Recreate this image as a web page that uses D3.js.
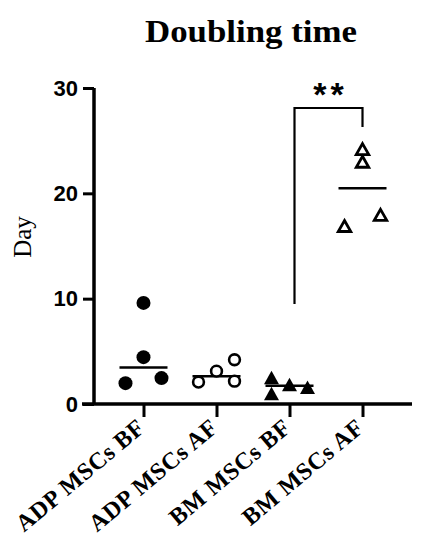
<!DOCTYPE html>
<html>
<head>
<meta charset="utf-8">
<script src="https://cdn.jsdelivr.net/npm/d3@7"></script>
<style>
  html, body { margin: 0; padding: 0; background: #fff; }
  svg { display: block; }
</style>
</head>
<body>
<svg id="chart" width="425" height="550"></svg>
<script>
// ---- data ----
const categories = ["ADP MSCs BF", "ADP MSCs AF", "BM MSCs BF", "BM MSCs AF"];
const adpBF = [9.6, 4.45, 1.98, 2.46];
const adpAF = [2.08, 3.12, 4.2, 2.17];
const bmBF  = [2.52, 1.0, 1.86, 1.6];
const bmAF  = [24.2, 23.0, 16.9, 17.95];
// scatter column slot of each point (-1 left, 0 centre, +1 right)
const adpBFSlots = [0, 0, -1, 1];
const adpAFSlots = [-1, 0, 1, 1];
const bmBFSlots  = [-1, -1, 0, 1];
const bmAFSlots  = [0, 0, -1, 1];
const yTicks = [0, 10, 20, 30];
const titleText = "Doubling time";
const yLabel = "Day";
const sigLabel = "**";
// significance bracket: from group index 2 to 3, [left bottom, top, right bottom] in Day units
const sigFrom = 2, sigTo = 3;
const sigLevels = [9.5, 28.1, 26.3];

const groups = [
  { name: categories[0], values: adpBF, slots: adpBFSlots, shape: "circle", fill: true },
  { name: categories[1], values: adpAF, slots: adpAFSlots, shape: "circle", fill: false },
  { name: categories[2], values: bmBF,  slots: bmBFSlots,  shape: "triangle", fill: true },
  { name: categories[3], values: bmAF,  slots: bmAFSlots,  shape: "triangle", fill: false }
];

// ---- layout ----
const svg = d3.select("#chart");
const axisX = 94, axisRight = 412, axisBottom = 404, axisTop = 88;

const x = d3.scalePoint().domain(categories).range([axisX, axisRight]).padding(0.678);
const y = d3.scaleLinear().domain([0, 30]).range([axisBottom, axisTop]);
const slotW = 18;

// title
svg.append("text")
  .attr("x", 251).attr("y", 42)
  .attr("text-anchor", "middle")
  .attr("font-family", "'Liberation Serif', 'DejaVu Serif', serif")
  .attr("font-weight", "bold")
  .attr("font-size", 31)
  .attr("textLength", 212)
  .attr("lengthAdjust", "spacingAndGlyphs")
  .text(titleText);

// y label
svg.append("text")
  .attr("transform", `translate(31, 237) rotate(-90)`)
  .attr("text-anchor", "middle")
  .attr("font-family", "'Liberation Serif', 'DejaVu Serif', serif")
  .attr("font-size", 25)
  .text(yLabel);

// y axis
const yAxis = d3.axisLeft(y).tickValues(yTicks).tickSize(11).tickPadding(5).tickSizeOuter(0);
const gy = svg.append("g").attr("transform", `translate(${axisX},0)`).call(yAxis);
gy.select(".domain").attr("stroke", "#000").attr("stroke-width", 3.5).attr("d", `M0,${axisTop}V${axisBottom}`);
gy.selectAll(".tick line").attr("stroke", "#000").attr("stroke-width", 3);
gy.selectAll(".tick text")
  .attr("font-family", "'Liberation Sans', Arial, sans-serif")
  .attr("font-weight", "bold")
  .attr("font-size", 22)
  .attr("fill", "#000");

// x axis
const xAxis = d3.axisBottom(x).tickSize(13).tickSizeOuter(0).tickFormat("");
const gx = svg.append("g").attr("transform", `translate(0,${axisBottom})`).call(xAxis);
gx.select(".domain").attr("stroke", "#000").attr("stroke-width", 3.5).attr("d", `M${axisX - 12},0H${axisRight}`);
gx.selectAll(".tick line").attr("stroke", "#000").attr("stroke-width", 3);

// x labels
svg.append("g").selectAll("text")
  .data(categories)
  .join("text")
  .attr("transform", d => `translate(${x(d) + 3},${axisBottom + 26}) rotate(-40)`)
  .attr("text-anchor", "end")
  .attr("font-family", "'Liberation Serif', 'DejaVu Serif', serif")
  .attr("font-weight", "bold")
  .attr("font-size", 24)
  .attr("letter-spacing", 0.6)
  .text(d => d);

// medians
svg.append("g").selectAll("line")
  .data(groups)
  .join("line")
  .attr("x1", d => x(d.name) - 24)
  .attr("x2", d => x(d.name) + 24)
  .attr("y1", d => y(d3.median(d.values)))
  .attr("y2", d => y(d3.median(d.values)))
  .attr("stroke", "#000")
  .attr("stroke-width", 2.5);

// points
const triPath = (w, h) => `M0,${-h/2}L${w/2},${h/2}L${-w/2},${h/2}Z`;
groups.forEach(g => {
  const pts = g.values.map((v, i) => ({ v, s: g.slots[i] }));
  const sel = svg.append("g").selectAll("path")
    .data(pts)
    .join("path")
    .attr("transform", d => `translate(${x(g.name) + d.s * slotW},${y(d.v)})`);
  if (g.shape === "circle") {
    if (g.fill) {
      sel.attr("d", d3.symbol(d3.symbolCircle, Math.PI * 7 * 7)).attr("fill", "#000");
    } else {
      sel.attr("d", d3.symbol(d3.symbolCircle, Math.PI * 5.4 * 5.4))
        .attr("fill", "#fff").attr("stroke", "#000").attr("stroke-width", 2.6);
    }
  } else {
    if (g.fill) {
      sel.attr("d", triPath(15, 13.5)).attr("fill", "#000");
    } else {
      sel.attr("d", triPath(12.5, 11)).attr("fill", "#fff")
        .attr("stroke", "#000").attr("stroke-width", 2.8).attr("stroke-linejoin", "miter");
    }
  }
});

// significance bracket
const bx1 = x(categories[sigFrom]) + 5, bx2 = x(categories[sigTo]);
svg.append("path")
  .attr("d", d3.line()([[bx1, y(sigLevels[0])], [bx1, y(sigLevels[1])], [bx2, y(sigLevels[1])], [bx2, y(sigLevels[2])]]))
  .attr("fill", "none").attr("stroke", "#000").attr("stroke-width", 2.2);
svg.append("text")
  .attr("x", (bx1 + bx2) / 2 + 2).attr("y", 106)
  .attr("text-anchor", "middle")
  .attr("font-family", "'Liberation Sans', Arial, sans-serif")
  .attr("font-weight", "bold")
  .attr("font-size", 34)
  .attr("letter-spacing", 4)
  .text(sigLabel);
</script>
</body>
</html>
